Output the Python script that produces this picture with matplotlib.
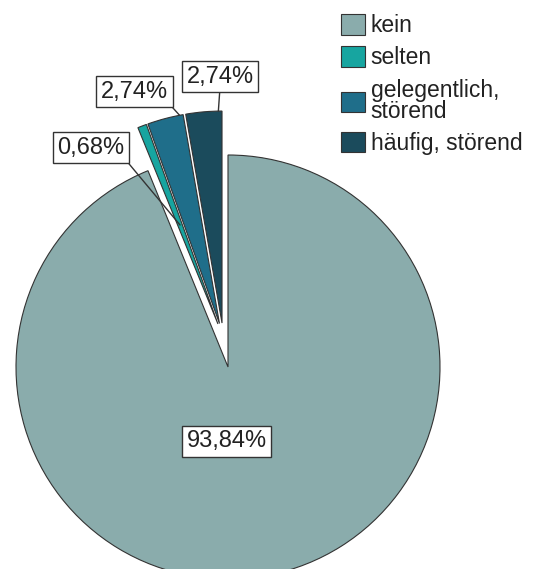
import matplotlib
matplotlib.use('Agg')
import matplotlib.pyplot as plt
import numpy as np

plt.rcParams['font.family'] = ['Liberation Sans', 'DejaVu Sans']

# Anteile je Kategorie (Prozent)
kategorien = ['kein', 'selten', 'gelegentlich,\nstörend', 'häufig, störend']
anteile = [93.84, 0.68, 2.74, 2.74]
farben = ['#8aacac', '#17a5a0', '#1f6e8a', '#1b4b5c']

fig = plt.figure(figsize=(5.39, 5.69), dpi=100)
ax = fig.add_axes([0, 0, 1, 1])

radius = 212
# explode ist bei pie in Dateneinheiten angegeben
abstand = 15
wedges, _ = ax.pie(anteile, colors=farben, startangle=90, counterclock=False,
                   explode=[0, abstand, abstand, abstand], center=(228, 202),
                   radius=radius, frame=True,
                   wedgeprops=dict(edgecolor='#333333', linewidth=0.8))

# die kleinen Segmente gemeinsam herausziehen
verschiebung = (-4.7, 29)
for w in wedges[1:]:
    cx, cy = w.center
    w.set_center((cx + verschiebung[0], cy + verschiebung[1]))

ax.set_xlim(0, 539)
ax.set_ylim(0, 569)
ax.set_aspect('equal')
ax.axis('off')

box = dict(boxstyle='square,pad=0.2', facecolor='white', edgecolor='#333333', linewidth=1)

def fmt(v):
    return f'{v:.2f}%'.replace('.', ',')

# Beschriftung des großen Segments
ax.text(226.5, 127.5, fmt(anteile[0]), fontsize=17, ha='center', va='center',
        bbox=box, color='#222222')

# kleine Segmente: Beschriftung mit Verbindungslinie
# (Position der Box, Winkelanteil im Segment, Radiusanteil, Ansatzpunkt an der Box)
beschriftung = {
    1: ((91, 421.5), 0.5, 0.5, (1, 0)),
    2: ((134.5, 477.5), 0.1, 1.0, (1, 0)),
    3: ((220, 492.5), 0.1, 1.0, (0.5, 0)),
}
for i, (pos, fa, fr, rel) in beschriftung.items():
    w = wedges[i]
    a = np.radians(w.theta1 + fa * (w.theta2 - w.theta1))
    cx, cy = w.center
    ziel = (cx + fr * w.r * np.cos(a), cy + fr * w.r * np.sin(a))
    ax.annotate(fmt(anteile[i]), xy=ziel, xytext=pos, fontsize=17,
                ha='center', va='center', color='#222222', bbox=box,
                arrowprops=dict(arrowstyle='-', color='#333333', lw=1,
                                relpos=rel, shrinkA=0, shrinkB=0))

leg = ax.legend(wedges, kategorien, loc='upper left', bbox_to_anchor=(341, 555),
                bbox_transform=ax.transData, frameon=False, fontsize=16.5,
                handlelength=1.05, handleheight=1.0, handletextpad=0.25,
                labelspacing=0.4, borderpad=0, borderaxespad=0)
for t in leg.get_texts():
    t.set_linespacing(0.9)
    t.set_color('#222222')

fig.savefig('out.png', dpi=100)
